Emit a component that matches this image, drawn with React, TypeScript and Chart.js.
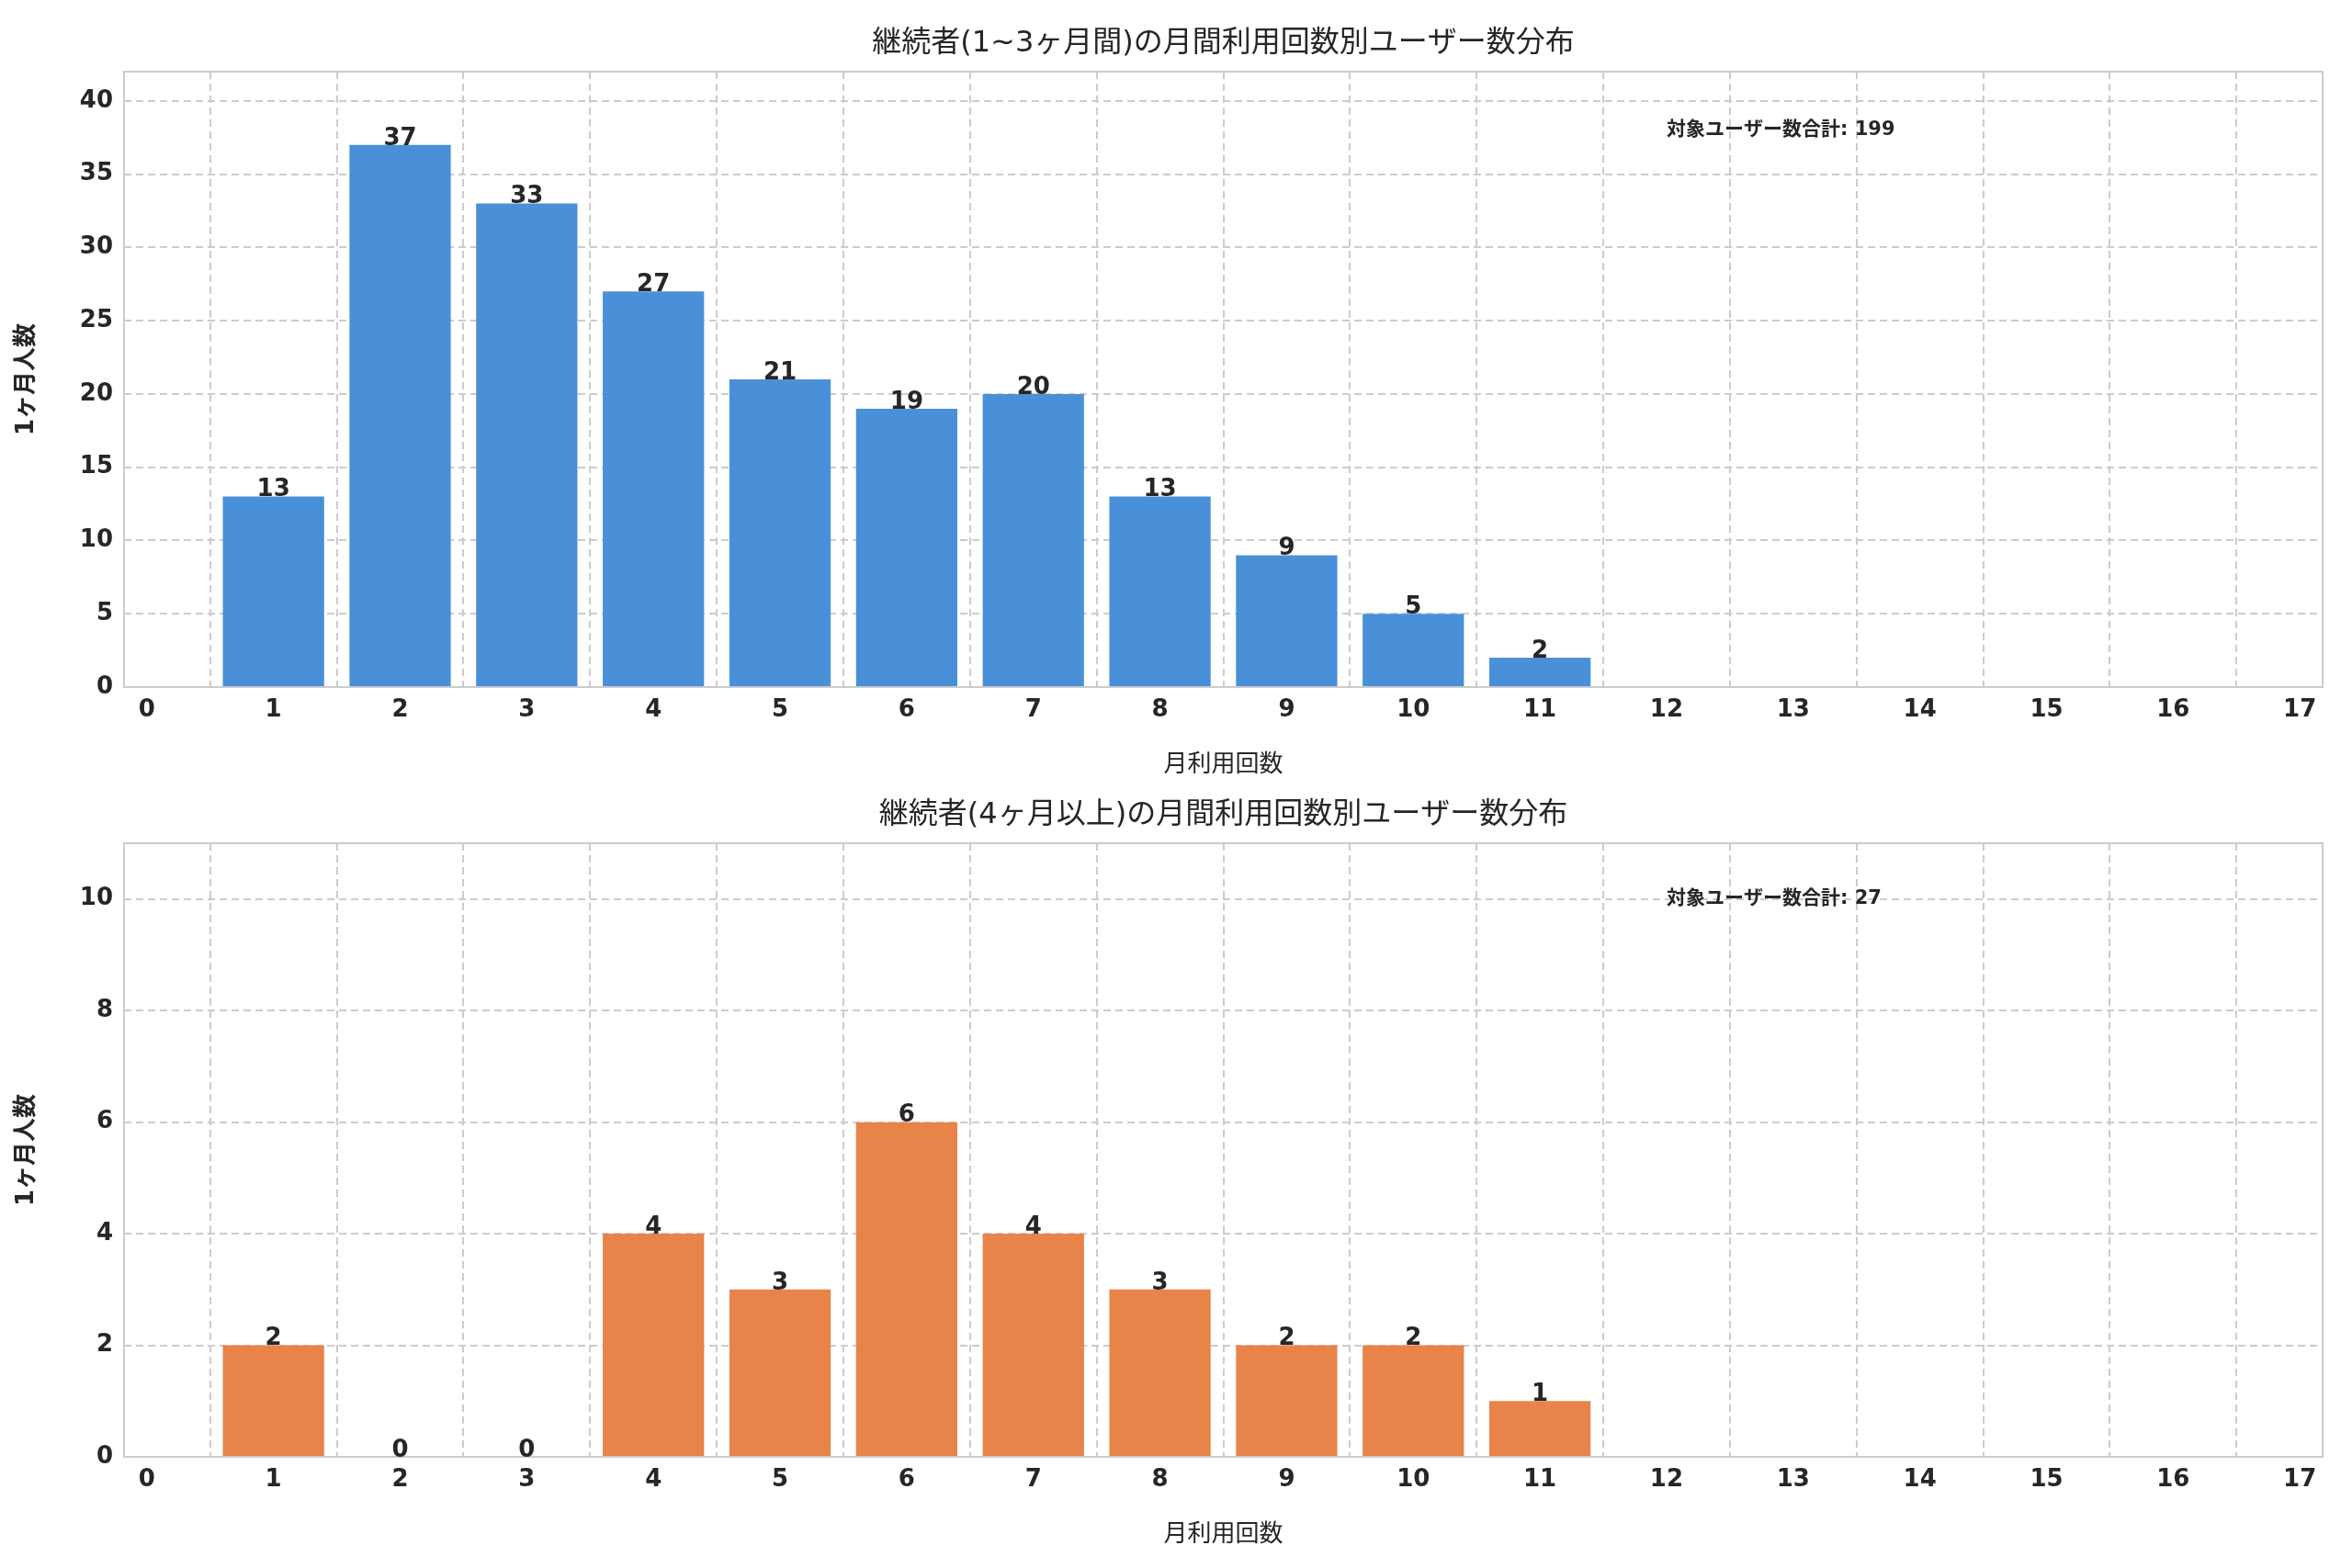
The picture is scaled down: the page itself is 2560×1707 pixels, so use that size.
import React, { useEffect, useRef } from "react";
import { Chart, registerables } from "chart.js";
Chart.register(...registerables);

const months = [1, 2, 3, 4, 5, 6, 7, 8, 9, 10, 11];
const shortValues = [13, 37, 33, 27, 21, 19, 20, 13, 9, 5, 2];
const longValues = [2, 0, 0, 4, 3, 6, 4, 3, 2, 2, 1];
const shortTitle = "継続者(1~3ヶ月間)の月間利用回数別ユーザー数分布";
const longTitle = "継続者(4ヶ月以上)の月間利用回数別ユーザー数分布";
const xTitle = "月利用回数";
const yTitle = "1ヶ月人数";
const noteLabel = "対象ユーザー数合計";

const FONT = "'DejaVu Sans', 'Noto Sans CJK JP', sans-serif";

function makeChart(canvas: HTMLCanvasElement, values: number[], color: string, title: string, yMax: number, yStep: number, padTop: number, padBottom: number, noteY: number) {
  const total = values.reduce((a, b) => a + b, 0);
  const deco = {
    id: "deco",
    afterDatasetsDraw(chart: any) {
      const { ctx, chartArea: a, scales } = chart;
      ctx.save();
      ctx.strokeStyle = "#cccccc";
      ctx.lineWidth = 2;
      ctx.strokeRect(a.left, a.top, a.right - a.left, a.bottom - a.top);
      ctx.fillStyle = "#262626";
      ctx.font = `32px ${FONT}`;
      ctx.textAlign = "center";
      ctx.textBaseline = "middle";
      ctx.fillText(title, (a.left + a.right) / 2, a.top - 30);
      ctx.font = `bold 26px ${FONT}`;
      ctx.textBaseline = "bottom";
      const meta = chart.getDatasetMeta(0);
      meta.data.forEach((el: any, i: number) => {
        ctx.fillText(String(values[i]), el.x, el.y + 6);
      });
      ctx.font = `bold 21px ${FONT}`;
      ctx.textAlign = "left";
      ctx.textBaseline = "middle";
      ctx.fillText(`${noteLabel}: ${total}`, scales.x.getPixelForValue(12), scales.y.getPixelForValue(noteY));
      ctx.restore();
    },
  };
  const grid = { color: "#cccccc", lineWidth: 2, tickLength: 0 };
  return new Chart(canvas, {
    type: "bar",
    data: {
      datasets: [{ data: months.map((m, i) => ({ x: m, y: values[i] })), backgroundColor: color, categoryPercentage: 1, barPercentage: 0.8 }],
    },
    options: {
      animation: false,
      responsive: false,
      devicePixelRatio: 1,
      layout: { padding: { top: padTop, left: 10, right: 32, bottom: padBottom } },
      plugins: { legend: { display: false }, tooltip: { enabled: false } },
      scales: {
        x: {
          type: "linear", min: -0.18, max: 17.18, offset: false,
          afterBuildTicks: (s: any) => { s.ticks = Array.from({ length: 18 }, (_, i) => ({ value: i })); },
          afterFit: (s: any) => { s.height = 105; },
          grid: grid as any,
          border: { display: false, dash: [8, 5] },
          ticks: { color: "#262626", font: { family: FONT, size: 26, weight: "bold" }, padding: 10 },
          title: { display: true, text: xTitle, color: "#262626", font: { family: FONT, size: 26 }, padding: { top: 4 } },
        },
        y: {
          min: 0, max: yMax,
          afterBuildTicks: (s: any) => { const t = []; for (let v = 0; v <= yMax; v += yStep) t.push({ value: v }); s.ticks = t; },
          afterFit: (s: any) => { s.width = 125; },
          grid: grid as any,
          border: { display: false, dash: [8, 5] },
          ticks: { color: "#262626", font: { family: FONT, size: 26, weight: "bold" }, padding: 12 },
          title: { display: true, text: yTitle, color: "#262626", font: { family: FONT, size: 26, weight: "bold" }, padding: { bottom: 14 } },
        },
      },
    },
    plugins: [deco],
  } as any);
}

export default function App() {
  const r1 = useRef<HTMLCanvasElement>(null);
  const r2 = useRef<HTMLCanvasElement>(null);
  useEffect(() => {
    const c1 = makeChart(r1.current!, shortValues, "#4a90d9", shortTitle, 42, 5, 78, 0, 38);
    const c2 = makeChart(r2.current!, longValues, "#e8834a", longTitle, 11, 2, 65, 16, 10);
    return () => { c1.destroy(); c2.destroy(); };
  }, []);
  return (
    <div style={{ position: "fixed", left: 0, top: 0, width: 2560, height: 1707, background: "#fff" }}>
      <canvas ref={r1} width={2560} height={853} style={{ display: "block" }} />
      <canvas ref={r2} width={2560} height={854} style={{ display: "block" }} />
    </div>
  );
}
